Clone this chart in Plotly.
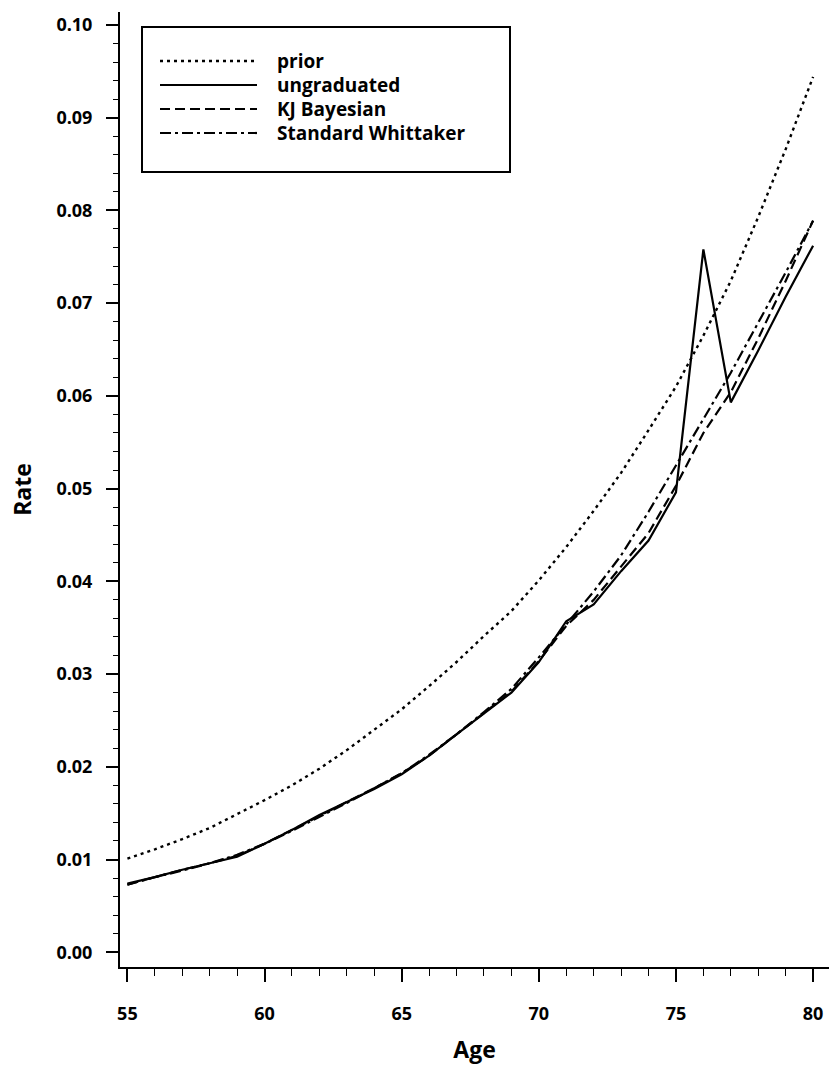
import plotly.graph_objects as go

# ---------------- data ----------------
ages = list(range(55, 81))

prior = [0.0101, 0.0111, 0.0122, 0.0134, 0.0149, 0.0164, 0.0180, 0.0198, 0.0218,
         0.0240, 0.0262, 0.0287, 0.0313, 0.0341, 0.0368, 0.0401, 0.0437, 0.0476,
         0.0517, 0.0563, 0.0610, 0.0665, 0.0724, 0.0793, 0.0866, 0.0944]

ungraduated = [0.0074, 0.0081, 0.0089, 0.0096, 0.0103, 0.0117, 0.0132, 0.0148, 0.0162,
               0.0176, 0.0192, 0.0212, 0.0235, 0.0258, 0.0280, 0.0313, 0.0357, 0.0375,
               0.0411, 0.0444, 0.0496, 0.0758, 0.0593, 0.0649, 0.0707, 0.0762]

kj_bayesian = [0.0073, 0.0081, 0.0089, 0.0096, 0.0104, 0.0117, 0.0132, 0.0147, 0.0162,
               0.0177, 0.0193, 0.0212, 0.0235, 0.0258, 0.0281, 0.0314, 0.0352, 0.0380,
               0.0416, 0.0452, 0.0503, 0.0560, 0.0604, 0.0662, 0.0724, 0.0789]

whittaker = [0.0073, 0.0081, 0.0088, 0.0096, 0.0105, 0.0117, 0.0131, 0.0146, 0.0161,
             0.0177, 0.0193, 0.0213, 0.0235, 0.0259, 0.0284, 0.0318, 0.0354, 0.0389,
             0.0428, 0.0475, 0.0525, 0.0575, 0.0625, 0.0679, 0.0733, 0.0789]

series_names = ["prior", "ungraduated", "KJ Bayesian", "Standard Whittaker"]
series_values = [prior, ungraduated, kj_bayesian, whittaker]

x_tick_vals = [55, 60, 65, 70, 75, 80]
y_tick_vals = [0.00, 0.01, 0.02, 0.03, 0.04, 0.05, 0.06, 0.07, 0.08, 0.09, 0.10]

# ---------------- styles ----------------
dashes = ["3px,4px", "solid", "10px,5px", "11px,4px,3px,4px"]
widths = [2.4, 2.2, 2.2, 2.2]
FONT = "Open Sans"

W, H = 829, 1081
L, R, T, B = 120, 0, 12, 114
plot_w = W - L - R
plot_h = H - T - B

fig = go.Figure()
for name, vals, dash, wdt in zip(series_names, series_values, dashes, widths):
    fig.add_trace(go.Scatter(
        x=ages, y=vals, mode="lines", name=name, showlegend=False,
        line=dict(color="black", width=wdt, dash=dash),
    ))

# ---------------- boxed key drawn like the reference ----------------
def px_x(p):
    return (p - L) / plot_w

def px_y(p):
    return (H - B - p) / plot_h

box = dict(x0=142, x1=510, y0=27, y1=172)
row_y = [61, 85, 109, 133]
sample_x = (160, 257)
text_x = 275

shapes = [dict(type="rect", xref="paper", yref="paper",
               x0=px_x(box["x0"]), x1=px_x(box["x1"]),
               y0=px_y(box["y1"]), y1=px_y(box["y0"]),
               line=dict(color="black", width=2), fillcolor="white", layer="above")]
annotations = []
for name, dash, wdt, ry in zip(series_names, dashes, widths, row_y):
    shapes.append(dict(type="line", xref="paper", yref="paper",
                       x0=px_x(sample_x[0]), x1=px_x(sample_x[1]),
                       y0=px_y(ry), y1=px_y(ry),
                       line=dict(color="black", width=wdt, dash=dash), layer="above"))
    annotations.append(dict(xref="paper", yref="paper", x=px_x(text_x), y=px_y(ry),
                            text=name, showarrow=False, xanchor="left", yanchor="middle",
                            font=dict(family=FONT, size=19, color="black", weight="bold")))

fig.update_layout(
    width=W, height=H,
    margin=dict(l=L, r=R, t=T, b=B, pad=0),
    paper_bgcolor="white", plot_bgcolor="white",
    showlegend=False,
    shapes=shapes, annotations=annotations,
    font=dict(family=FONT, color="black"),
)

fig.update_xaxes(
    range=[54.73, 80.58], tickvals=x_tick_vals, ticktext=[str(v) for v in x_tick_vals],
    showgrid=False, zeroline=False, showline=True, linecolor="black", linewidth=2,
    ticks="outside", ticklen=13, tickwidth=1.6, tickcolor="black",
    minor=dict(dtick=1, tick0=55, ticks="outside", ticklen=7, tickwidth=1.4, tickcolor="black", showgrid=False),
    tickfont=dict(family=FONT, size=18, color="black", weight="bold"),
    ticklabelstandoff=16,
    title=dict(text="Age", font=dict(family=FONT, size=23, color="black", weight="bold"), standoff=18),
)
fig.update_yaxes(
    range=[-0.00159, 0.1014], tickvals=y_tick_vals, ticktext=[f"{v:.2f}" for v in y_tick_vals],
    showgrid=False, zeroline=False, showline=True, linecolor="black", linewidth=2,
    ticks="outside", ticklen=12, tickwidth=1.6, tickcolor="black",
    minor=dict(dtick=0.002, tick0=0, ticks="outside", ticklen=5, tickwidth=1.4, tickcolor="black", showgrid=False),
    tickfont=dict(family=FONT, size=18, color="black", weight="bold"),
    ticklabelstandoff=10,
    title=dict(text="Rate", font=dict(family=FONT, size=23, color="black", weight="bold"), standoff=18),
)

fig.write_html("out.html")
